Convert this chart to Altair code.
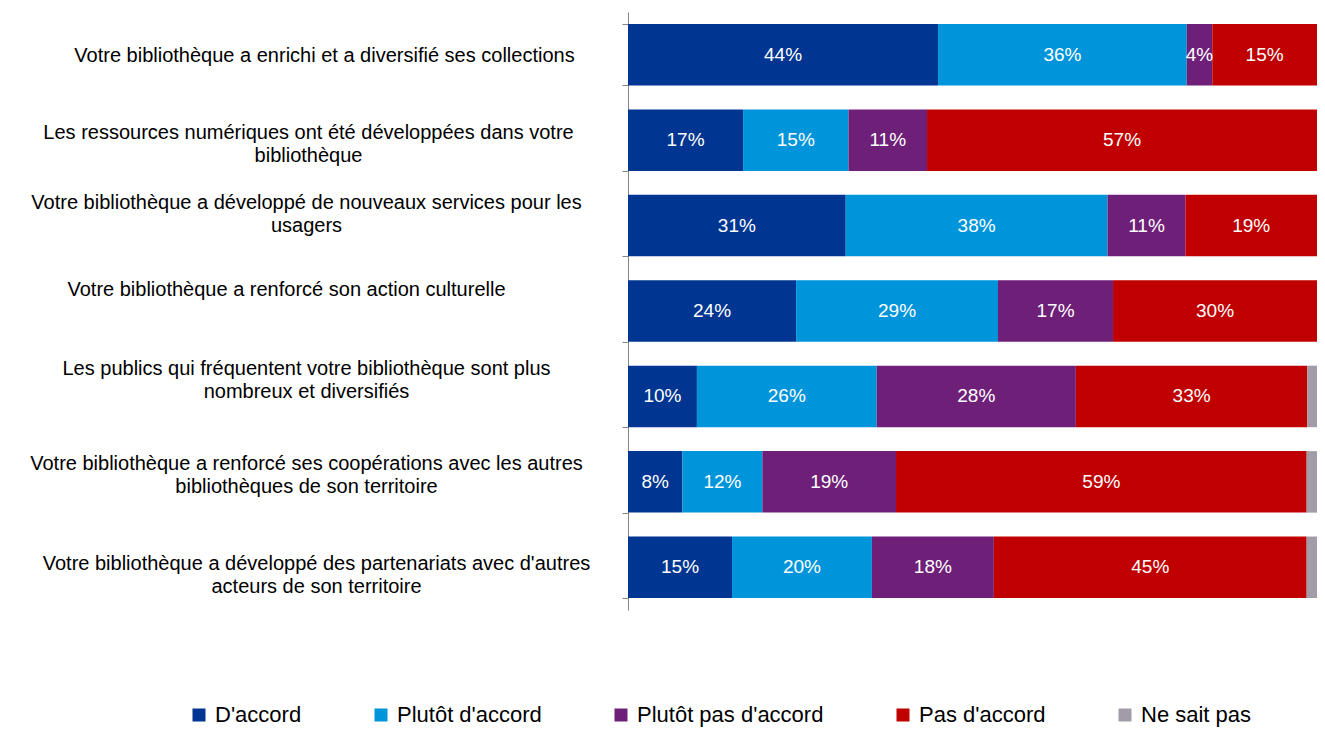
import json
import altair as alt
import pandas as pd

questions = [
    "Votre bibliothèque a enrichi et a diversifié ses collections",
    "Les ressources numériques ont été développées dans votre|bibliothèque",
    "Votre bibliothèque a développé de nouveaux services pour les|usagers",
    "Votre bibliothèque a renforcé son action culturelle",
    "Les publics qui fréquentent votre bibliothèque sont plus|nombreux et diversifiés",
    "Votre bibliothèque a renforcé ses coopérations avec les autres|bibliothèques de son territoire",
    "Votre bibliothèque a développé des partenariats avec d'autres|acteurs de son territoire",
]

series = ["D'accord", "Plutôt d'accord", "Plutôt pas d'accord", "Pas d'accord", "Ne sait pas"]
colors = ["#003591", "#0095DA", "#6E1F78", "#C00000", "#A29BA8"]

# segment sizes (%)
d_accord = [45.0, 16.7, 31.6, 24.4, 10.0, 7.9, 15.1]
plutot_accord = [36.1, 15.3, 38.0, 29.3, 26.1, 11.6, 20.3]
plutot_pas = [3.7, 11.4, 11.3, 16.7, 28.9, 19.4, 17.7]
pas_accord = [15.2, 56.6, 19.1, 29.6, 33.6, 59.6, 45.4]
ne_sait_pas = [0.0, 0.0, 0.0, 0.0, 1.4, 1.5, 1.5]

# printed data labels
lab_d_accord = [44, 17, 31, 24, 10, 8, 15]
lab_plutot_accord = [36, 15, 38, 29, 26, 12, 20]
lab_plutot_pas = [4, 11, 11, 17, 28, 19, 18]
lab_pas_accord = [15, 57, 19, 30, 33, 59, 45]
lab_ne_sait_pas = [None, None, None, None, None, None, None]

# per-category label placement (Excel-style wrapped labels)
label_dy = [1, -8, -23, -22, -28, -18, -4]
label_pad = [298, 314, 316, 336, 316, 316, 306]

values = [d_accord, plutot_accord, plutot_pas, pas_accord, ne_sait_pas]
labels = [lab_d_accord, lab_plutot_accord, lab_plutot_pas, lab_pas_accord, lab_ne_sait_pas]

rows = []
for qi, q in enumerate(questions):
    for si, s in enumerate(series):
        lab = labels[si][qi]
        rows.append({
            "question": q,
            "serie": s,
            "order": si,
            "value": values[si][qi],
            "label": f"{lab}%" if lab is not None else "",
        })
df = pd.DataFrame(rows)

FONT = "Liberation Sans"


def cond_number(vals, default):
    return {
        "condition": [
            {"test": f"datum.value === {json.dumps(q, ensure_ascii=False)}", "value": v}
            for q, v in zip(questions, vals)
        ],
        "value": default,
    }


base = alt.Chart(df).transform_stack(
    stack="value",
    groupby=["question"],
    sort=[alt.SortField("order", order="ascending")],
    as_=["x0", "x1"],
).transform_calculate(mid="(datum.x0 + datum.x1) / 2")

xscale = alt.Scale(domain=[0, 100], nice=False, zero=False)
yscale = alt.Scale(paddingInner=0.28, paddingOuter=0.14)

yaxis = alt.Axis(
    title=None,
    labelExpr="split(datum.label, '|')",
    labelAlign="center",
    labelBaseline="middle",
    labelPadding=cond_number(label_pad, 312),
    labelOffset=cond_number(label_dy, 0),
    labelFontSize=20,
    labelFont=FONT,
    labelColor="black",
    labelLineHeight=23,
    labelLimit=700,
    labelOverlap=False,
    domainColor="#868686",
    tickColor="#868686",
    tickSize=6,
    tickBand="extent",
    domainWidth=1,
    tickWidth=1,
)

bars = base.mark_bar(clip=True).encode(
    x=alt.X("x0:Q", scale=xscale, axis=None),
    x2="x1:Q",
    y=alt.Y("question:N", sort=questions, scale=yscale, axis=yaxis),
    color=alt.Color(
        "serie:N",
        scale=alt.Scale(domain=series, range=colors),
        sort=series,
        legend=alt.Legend(
            title=None,
            orient="none",
            legendX=-440,
            legendY=692,
            direction="horizontal",
            columns=5,
            symbolType="square",
            symbolSize=169,
            symbolStrokeWidth=0,
            labelFontSize=22,
            labelFont=FONT,
            labelColor="black",
            labelOffset=5,
            columnPadding=68,
            labelLimit=400,
            padding=0,
        ),
    ),
    order=alt.Order("order:Q"),
)

text = base.transform_filter("datum.label != ''").mark_text(
    color="white", fontSize=19, font=FONT, align="center", baseline="middle"
).encode(
    x=alt.X("mid:Q", scale=xscale, axis=None),
    y=alt.Y("question:N", sort=questions, scale=yscale),
    text="label:N",
)

chart = alt.layer(bars, text).properties(
    width=689,
    height=598,
    autosize=alt.AutoSizeParams(type="none"),
    padding={"left": 620, "top": 4, "right": 0, "bottom": 118},
    background="white",
).configure_view(stroke=None)

chart.save("out.html", embed_options={"renderer": "svg", "actions": False})
